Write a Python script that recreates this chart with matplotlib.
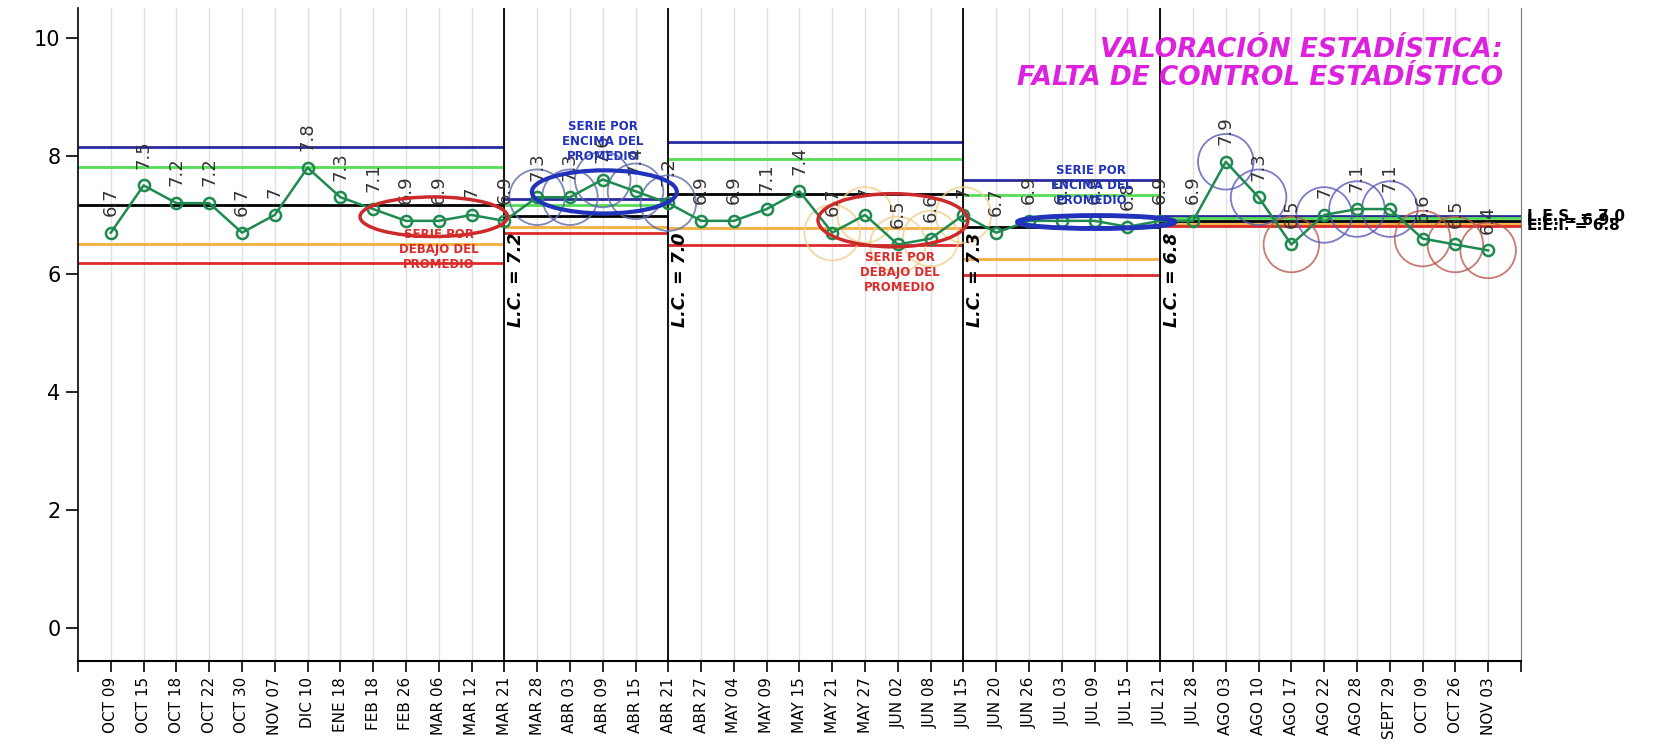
import numpy as np
import matplotlib.pyplot as plt
from matplotlib.patches import Ellipse

# data
fechas = ['OCT 09', 'OCT 15', 'OCT 18', 'OCT 22', 'OCT 30', 'NOV 07', 'DIC 10', 'ENE 18',
          'FEB 18', 'FEB 26', 'MAR 06', 'MAR 12', 'MAR 21', 'MAR 28', 'ABR 03', 'ABR 09',
          'ABR 15', 'ABR 21', 'ABR 27', 'MAY 04', 'MAY 09', 'MAY 15', 'MAY 21', 'MAY 27',
          'JUN 02', 'JUN 08', 'JUN 15', 'JUN 20', 'JUN 26', 'JUL 03', 'JUL 09', 'JUL 15',
          'JUL 21', 'JUL 28', 'AGO 03', 'AGO 10', 'AGO 17', 'AGO 22', 'AGO 28', 'SEPT 29',
          'OCT 09', 'OCT 26', 'NOV 03']
valores = [6.7, 7.5, 7.2, 7.2, 6.7, 7, 7.8, 7.3, 7.1, 6.9, 6.9, 7, 6.9,
           7.3, 7.3, 7.6, 7.4, 7.2,
           6.9, 6.9, 7.1, 7.4, 6.7, 7, 6.5, 6.6, 7,
           6.7, 6.9, 6.9, 6.9, 6.8, 6.9,
           6.9, 7.9, 7.3, 6.5, 7, 7.1, 7.1, 6.6, 6.5, 6.4]

# control limits per phase
seg_ini = [0, 13, 18, 27, 33]
seg_fin = [13, 18, 27, 33, 44]
les = [8.15, 7.27, 8.23, 7.60, 6.98]
les2 = [7.82, 7.17, 7.94, 7.33, 6.95]
lc = [7.16, 6.98, 7.36, 6.79, 6.90]
lei2 = [6.51, 6.79, 6.78, 6.25, 6.85]
lei = [6.18, 6.70, 6.49, 5.98, 6.82]
lc_txt = ['L.C. = 7.2', 'L.C. = 7.0', 'L.C. = 7.3', 'L.C. = 6.8']

# points marked with a circle (index from 1) and colour
circ_pos = [14, 15, 16, 17, 18, 23, 24, 25, 26, 27, 35, 36, 37, 38, 39, 40, 41, 42, 43]
circ_col = ['#5a6aa8'] * 5 + ['#ecd08a'] * 5 + ['#5a5ab8', '#5a5ab8', '#b85a50', '#5a5ab8',
                                                 '#5a5ab8', '#5a5ab8', '#b85a50', '#b85a50', '#b85a50']

x = np.arange(1, len(valores) + 1)

fig = plt.figure(figsize=(16.53, 7.44), dpi=100)
ax = fig.add_axes([0.0472, 0.1116, 0.8729, 0.8774])

ax.set_xlim(0, 44)
ax.set_ylim(-0.55, 10.5)

# vertical grid
for xi in x:
    ax.axvline(xi, color='#e0e0e0', lw=1, zorder=0)

# control lines per phase
for k in range(5):
    a, b = seg_ini[k], seg_fin[k]
    ax.hlines(les[k], a, b, color='#2a2aa0', lw=2, zorder=2)
    ax.hlines(les2[k], a, b, color='#55dd55', lw=2, zorder=2)
    ax.hlines(lc[k], a, b, color='black', lw=2, zorder=2)
    ax.hlines(lei2[k], a, b, color='#f2b040', lw=2, zorder=2)
    ax.hlines(lei[k], a, b, color='#dd2a2a', lw=2, zorder=2)

# phase separators
for k, b in enumerate(seg_fin[:-1]):
    ax.axvline(b, color='black', lw=1.3, zorder=3)
    ax.text(b + 0.35, 6.7, lc_txt[k], rotation=90, ha='center', va='top',
            fontsize=12.5, fontweight='bold', style='italic', zorder=6)

# data
ax.plot(x, valores, color='#1e8a50', lw=1.8, marker='o', ms=8, mfc='none',
        mew=1.8, zorder=5)
for xi, v in zip(x, valores):
    ax.annotate(f'{v:g}', (xi, v), xytext=(0, 12), textcoords='offset points',
                rotation=90, ha='center', va='bottom', fontsize=13, color='#333333', zorder=6)

ax.scatter([c for c in circ_pos], [valores[c - 1] for c in circ_pos], s=1600,
           facecolors='none', edgecolors=circ_col, lw=1.3, alpha=0.8, zorder=4)

# run ellipses and notes
ax.add_patch(Ellipse((10.85, 6.97), 4.5, 0.67, fill=False, ec='#cc2a2a', lw=2.5, zorder=6))
ax.text(11.0, 6.42, 'SERIE POR\nDEBAJO DEL\nPROMEDIO', ha='center', va='center',
        color='#dd2a2a', fontsize=8.5, fontweight='bold', zorder=6)
ax.add_patch(Ellipse((16.05, 7.39), 4.42, 0.73, fill=False, ec='#2233bb', lw=3, zorder=6))
ax.text(16.0, 8.24, 'SERIE POR\nENCIMA DEL\nPROMEDIO', ha='center', va='center',
        color='#2233bb', fontsize=8.5, fontweight='bold', zorder=6)
ax.add_patch(Ellipse((24.85, 6.91), 4.57, 0.9, fill=False, ec='#cc2a2a', lw=2.5, zorder=6))
ax.text(25.07, 6.02, 'SERIE POR\nDEBAJO DEL\nPROMEDIO', ha='center', va='center',
        color='#dd2a2a', fontsize=8.5, fontweight='bold', zorder=6)
ax.add_patch(Ellipse((31.05, 6.88), 4.8, 0.22, fill=False, ec='#2233bb', lw=3.5, zorder=6))
ax.text(30.9, 7.5, 'SERIE POR\nENCIMA DEL\nPROMEDIO', ha='center', va='center',
        color='#2233bb', fontsize=8.5, fontweight='bold', zorder=6)

# limits of the last phase at the right side
for yv, t in [(6.98, 'L.E.S. = 7.0'), (6.90, 'L.C. = 6.9'), (6.82, 'L.E.I. = 6.8')]:
    ax.text(44.2, yv, t, ha='left', va='center', fontsize=11, fontweight='bold',
            clip_on=False)

ax.text(43.45, 9.56, 'VALORACIÓN ESTADÍSTICA:\nFALTA DE CONTROL ESTADÍSTICO',
        ha='right', va='center', color='#dd22dd', fontsize=19, fontweight='bold',
        style='italic', linespacing=1.1, zorder=6)

ax.set_xticks(np.arange(0, 45))
ax.set_xticklabels([''] + fechas + [''], rotation=90, fontsize=11)
ax.set_yticks([0, 2, 4, 6, 8, 10])
ax.tick_params(axis='y', labelsize=15, length=9, width=1.2)
ax.tick_params(axis='x', length=8, width=1.2)
ax.spines['top'].set_visible(False)
ax.spines['right'].set_color('#777777')
ax.spines['left'].set_linewidth(1.2)
ax.spines['bottom'].set_linewidth(1.5)

fig.savefig('out.png', dpi=100)
